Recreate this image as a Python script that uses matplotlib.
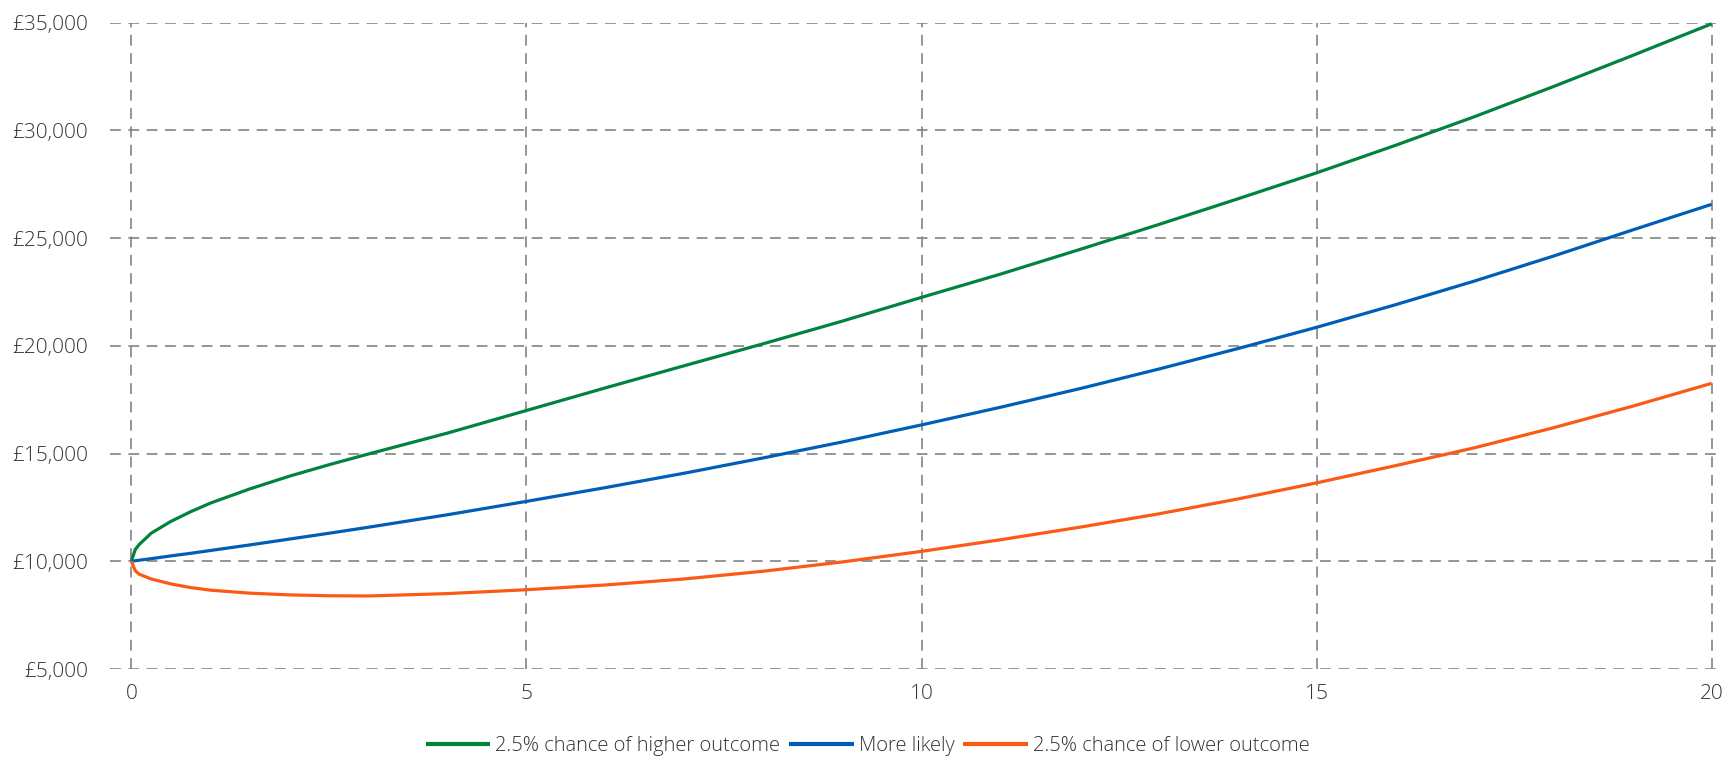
import matplotlib
matplotlib.use("Agg")
import matplotlib.pyplot as plt
import matplotlib.ticker as mticker

# years (finer near the start where the curves bend fast)
years = [0, 0.05, 0.1, 0.25, 0.5, 0.75, 1, 1.5, 2, 2.5, 3, 4, 5, 6, 7, 8, 9, 10,
         11, 12, 13, 14, 15, 16, 17, 18, 19, 20]

high = [10000, 10550, 10780, 11300, 11850, 12300, 12700, 13360, 13950, 14480, 14980,
        15950, 17000, 18050, 19080, 20100, 21150, 22250, 23330, 24470, 25630,
        26820, 28030, 29310, 30640, 32040, 33480, 34950]

likely = [10000, 10025, 10050, 10120, 10250, 10370, 10500, 10760, 11030, 11300, 11580,
          12160, 12780, 13420, 14090, 14800, 15540, 16330, 17150, 18010, 18920,
          19870, 20860, 21910, 23010, 24170, 25380, 26570]

low = [10000, 9560, 9400, 9180, 8950, 8780, 8660, 8520, 8440, 8400, 8390,
       8500, 8680, 8900, 9180, 9540, 9970, 10460, 11000, 11580, 12200,
       12890, 13640, 14440, 15270, 16200, 17200, 18260]

labels = ["2.5% chance of higher outcome", "More likely", "2.5% chance of lower outcome"]
colors = ["#00843D", "#005EB8", "#FA5A14"]

plt.rcParams['font.family'] = ['Open Sans', 'DejaVu Sans']

fig = plt.figure(figsize=(17.25, 7.58), dpi=100)
ax = fig.add_axes([110 / 1725, 1 - 669 / 758, (1718 - 110) / 1725, (669 - 22.7) / 758])

for ys, lab, col in zip([high, likely, low], labels, colors):
    ax.plot(years, ys, color=col, lw=2.3, label=lab, clip_on=False, zorder=3,
            solid_capstyle='butt', solid_joinstyle='round')

ax.set_xlim(-0.27, 20.08)
ax.set_ylim(5000, 35000)
ax.set_xticks([0, 5, 10, 15, 20])
ax.set_yticks(range(5000, 35001, 5000))
ax.yaxis.set_major_formatter(mticker.FuncFormatter(lambda v, p: f"£{v:,.0f}"))

ax.grid(True, color="#838383", lw=1.2, linestyle=(0, (6.5, 4.5)))
ax.set_axisbelow(True)
for s in ax.spines.values():
    s.set_visible(False)

ax.tick_params(axis='both', length=0, labelsize=15, labelcolor="#333333")
ax.tick_params(axis='y', pad=16)
ax.tick_params(axis='x', pad=11)
for t in ax.get_xticklabels() + ax.get_yticklabels():
    t.set_fontweight('light')

leg = fig.legend(loc='center', bbox_to_anchor=(0.503, 1 - 746 / 758), ncol=3,
                 frameon=False, fontsize=14.5, handlelength=3.2, handletextpad=0.25,
                 columnspacing=0.45, borderaxespad=0, borderpad=0)
for t in leg.get_texts():
    t.set_color("#333333")
    t.set_fontweight('light')
for h in leg.get_lines():
    h.set_linewidth(3)

fig.savefig("out.png", dpi=100)
